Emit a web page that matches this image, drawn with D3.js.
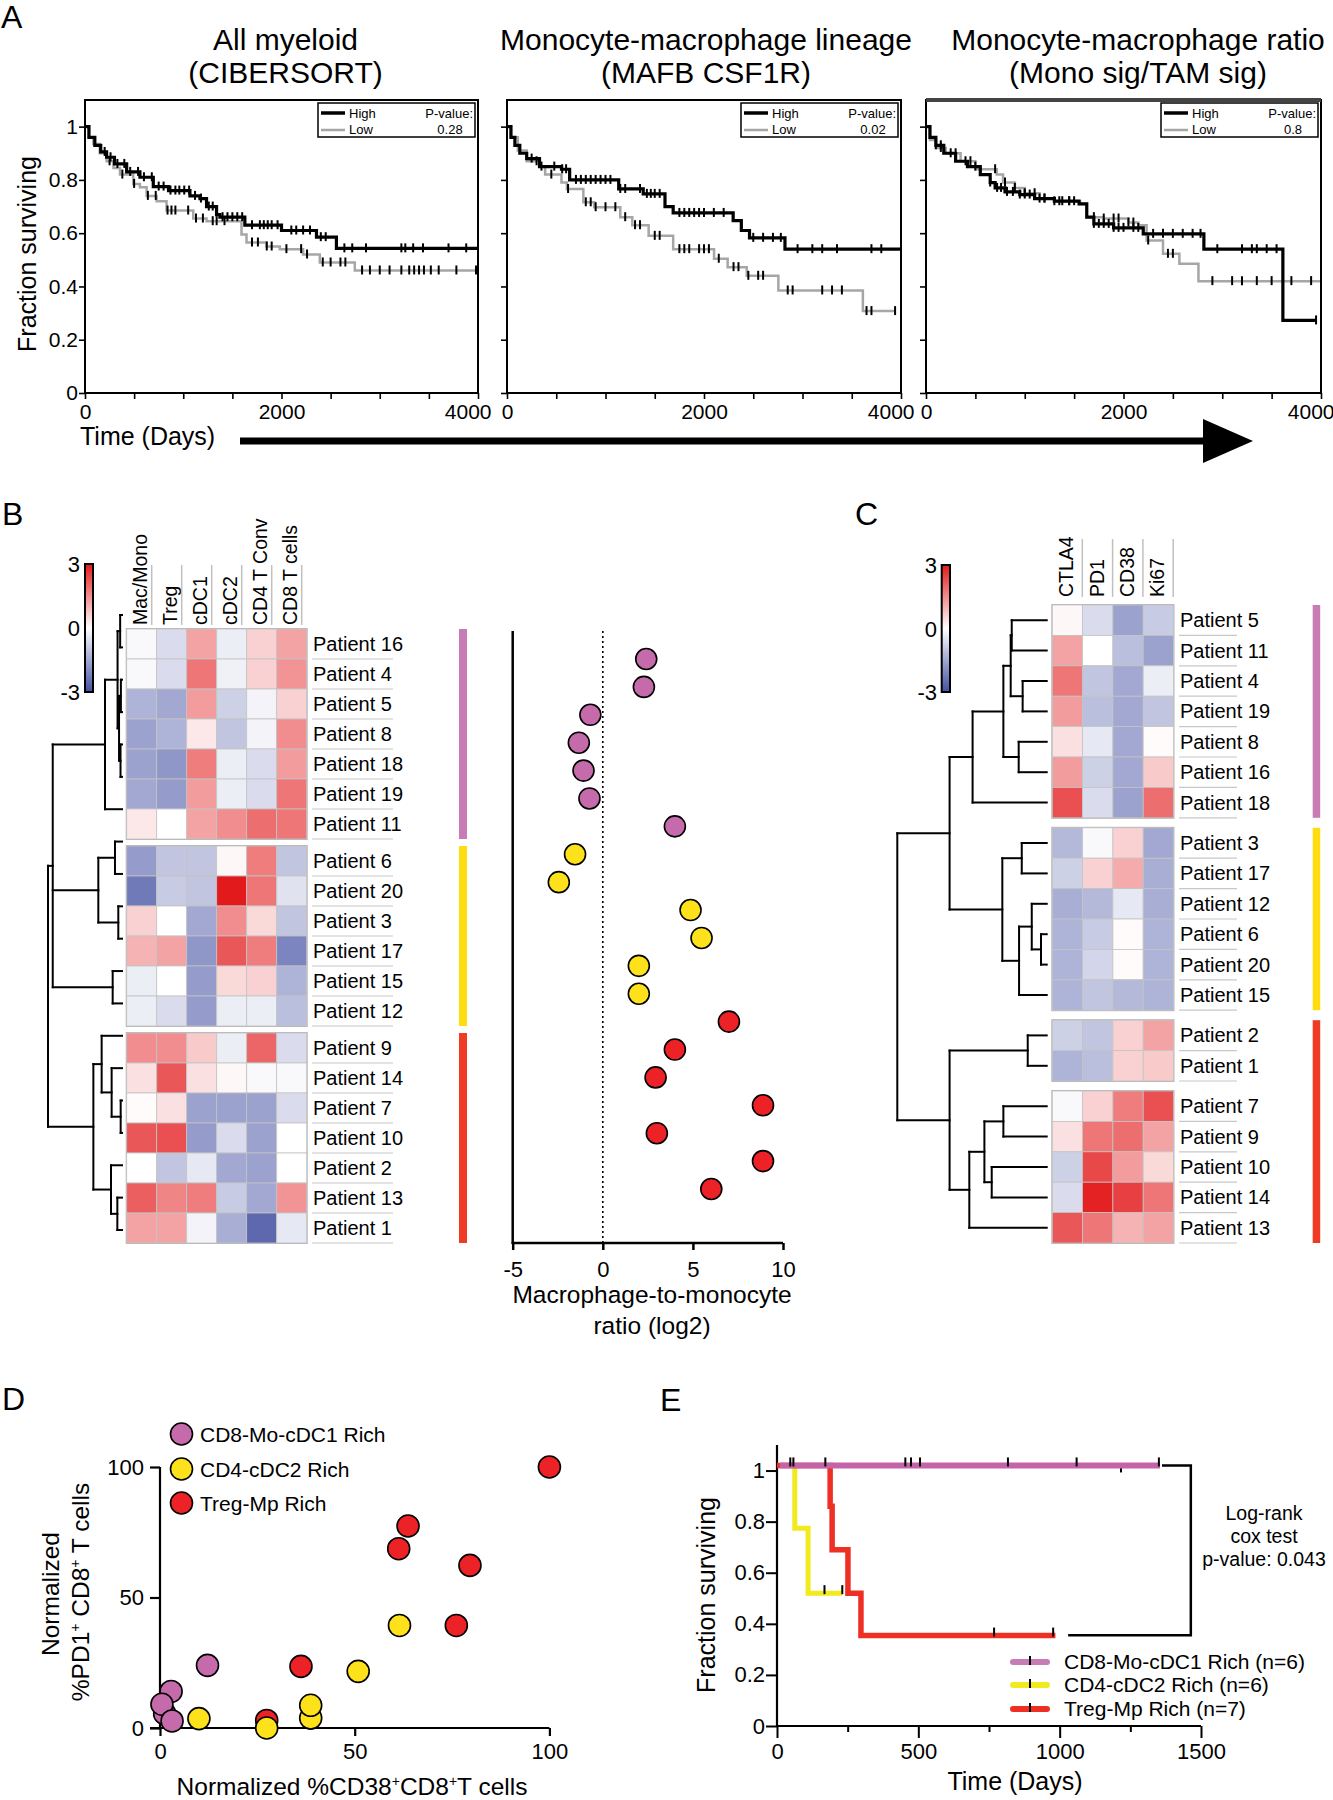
<!DOCTYPE html>
<html><head><meta charset="utf-8">
<script src="https://cdn.jsdelivr.net/npm/d3@7"></script>
<style>
body{margin:0;background:#fff;}
svg{display:block;font-family:"Liberation Sans",Arial,Helvetica,sans-serif;}
</style></head><body>
<svg id="fig" width="1333" height="1800"></svg>
<script>
// ================= DATA =================
// ---- Panel A: Kaplan-Meier curves [time (days), fraction surviving] ----
const titlesA = [["All myeloid","(CIBERSORT)"],["Monocyte-macrophage lineage","(MAFB CSF1R)"],["Monocyte-macrophage ratio","(Mono sig/TAM sig)"]];
const pValuesA = ["0.28","0.02","0.8"];
const legendA = ["High","Low"];
const xTicksA = [0,500,1000,1500,2000,2500,3000,3500,4000];
const xLabelsA = [0,2000,4000];
const yTicksA = [0,0.2,0.4,0.6,0.8,1];

const allHigh = [[0,1],[40,0.96],[100,0.93],[160,0.905],[220,0.885],[300,0.86],[424,0.83],[559,0.81],[695,0.775],[850,0.76],[1068,0.74],[1170,0.73],[1237,0.70],[1339,0.67],[1373,0.66],[1627,0.63],[2000,0.61],[2356,0.585],[2559,0.543],[4000,0.543]];
const allLow = [[0,1],[40,0.96],[85,0.935],[150,0.9],[220,0.87],[290,0.845],[356,0.82],[491,0.785],[559,0.772],[627,0.74],[729,0.72],[830,0.685],[1102,0.655],[1237,0.645],[1593,0.595],[1644,0.565],[1847,0.55],[1983,0.54],[2220,0.52],[2390,0.49],[2746,0.46],[4000,0.46]];
const allHighCens = [200,260,330,400,460,540,600,680,750,800,870,920,960,1010,1060,1120,1180,1260,1300,1400,1450,1500,1550,1600,1700,1780,1820,1860,1900,1960,2100,2150,2220,2290,2400,2450,2640,2720,2860,3220,3260,3340,3440,3700,3880,4000];
const allLowCens = [250,380,500,640,720,840,880,920,1050,1130,1200,1300,1340,1420,1700,1760,1850,1900,2050,2200,2260,2420,2500,2600,2650,2820,2900,3000,3100,3220,3300,3350,3400,3450,3520,3600,3780,3980,4000];

const mafbHigh = [[0,1],[40,0.96],[80,0.93],[130,0.9],[200,0.88],[330,0.85],[553,0.84],[636,0.8],[1134,0.766],[1383,0.7475],[1604,0.70],[1687,0.676],[2296,0.6475],[2379,0.61],[2462,0.5825],[2822,0.54],[4000,0.54]];
const mafbLow = [[0,1],[40,0.96],[110,0.91],[200,0.87],[330,0.85],[387,0.82],[553,0.79],[608,0.766],[775,0.716],[885,0.6975],[1150,0.66],[1272,0.63],[1438,0.59],[1687,0.54],[2102,0.504],[2240,0.4725],[2434,0.44],[2755,0.385],[3613,0.3075],[3940,0.3075]];
const mafbHighCens = [250,350,480,560,600,700,750,800,850,900,950,1000,1050,1150,1200,1350,1420,1460,1500,1550,1750,1800,1850,1900,1950,2000,2100,2200,2500,2600,2700,2780,2950,3100,3200,3350,3700,3800,4000];
const mafbLowCens = [300,450,620,800,850,900,1000,1100,1200,1300,1350,1500,1550,1750,1800,1850,1950,2000,2050,2150,2300,2350,2450,2550,2600,2850,2900,3200,3300,3400,3650,3700,3940];

const ratioHigh = [[0,1],[40,0.96],[100,0.93],[180,0.9],[300,0.87],[420,0.85],[550,0.82],[650,0.79],[700,0.77],[800,0.755],[950,0.745],[1100,0.73],[1300,0.72],[1550,0.71],[1628,0.66],[1700,0.635],[1900,0.62],[2200,0.5975],[2814,0.54],[3614,0.2725],[3950,0.2725]];
const ratioLow = [[0,1],[40,0.95],[100,0.92],[200,0.9],[350,0.87],[500,0.84],[717,0.82],[780,0.79],[900,0.77],[1000,0.75],[1150,0.73],[1300,0.72],[1560,0.71],[1628,0.66],[1800,0.655],[2050,0.64],[2150,0.63],[2234,0.5725],[2400,0.5225],[2566,0.485],[2759,0.42],[4000,0.42]];
const ratioHighCens = [100,150,250,400,500,650,720,760,820,880,950,1000,1050,1150,1200,1300,1380,1450,1500,1700,1750,1800,1850,1900,1950,2000,2100,2150,2300,2400,2500,2600,2700,2780,2950,3200,3300,3350,3450,3550,3950];
const ratioLowCens = [150,300,450,700,800,900,1000,1100,1200,1350,1450,1700,1800,1900,1950,2050,2100,2250,2450,2500,2900,3100,3200,3350,3500,3700,3900];

// ---- Panel B ----
const colsB = ["Mac/Mono","Treg","cDC1","cDC2","CD4 T Conv","CD8 T cells"];
const rowsB = ["Patient 16","Patient 4","Patient 5","Patient 8","Patient 18","Patient 19","Patient 11",
               "Patient 6","Patient 20","Patient 3","Patient 17","Patient 15","Patient 12",
               "Patient 9","Patient 14","Patient 7","Patient 10","Patient 2","Patient 13","Patient 1"];
const clusterSizesB = [7,6,7];
const valuesB = [
 [-0.1,-0.6, 1.2,-0.3, 0.6, 1.2],
 [-0.1,-0.6, 1.8,-0.25,0.6, 1.4],
 [-1.3,-1.5, 1.3,-0.8,-0.2, 0.6],
 [-1.6,-1.3, 0.3,-1.0,-0.2, 1.5],
 [-1.6,-1.8, 1.7,-0.3,-0.6, 1.3],
 [-1.5,-1.7, 1.3,-0.3,-0.6, 1.8],
 [ 0.3, 0.0, 1.2, 1.5, 1.9, 1.8],
 [-1.7,-1.0,-1.0, 0.1, 1.7,-1.0],
 [-2.3,-0.9,-1.0, 3.0, 1.8,-0.5],
 [ 0.6, 0.0,-1.5, 1.5, 0.5,-1.0],
 [ 1.0, 1.2,-1.8, 2.2, 1.7,-2.1],
 [-0.3, 0.0,-1.7, 0.5, 0.6,-1.3],
 [-0.3,-0.6,-1.7,-0.3,-0.3,-1.1],
 [ 1.5, 1.5, 0.7,-0.3, 2.0,-0.6],
 [ 0.4, 2.2, 0.4, 0.1,-0.1,-0.1],
 [ 0.05,0.4,-1.6,-1.6,-1.6,-0.6],
 [ 2.2, 2.3,-1.7,-0.6,-1.6, 0.0],
 [ 0.0,-1.0,-0.4,-1.5,-1.6, 0.0],
 [ 2.1, 1.6, 1.7,-0.9,-1.5, 1.4],
 [ 1.2, 1.2,-0.2,-1.4,-2.6,-0.4]
];
const ratioB = [2.41,2.28,-0.69,-1.33,-1.07,-0.74,4.0,-1.54,-2.44,4.87,5.48,2.0,2.0,7.0,4.0,2.93,8.89,3.0,8.89,6.02];
const ratioTicksB = [-5,0,5,10];
const treeB = {h:10,c:[
  {h:9.36,c:[
    {h:2.3,c:[
      {h:0.6,c:[
        {h:0.25,c:["Patient 16","Patient 4"]},
        {h:0.4,c:[{h:0.15,c:["Patient 5","Patient 8"]},{h:0.2,c:["Patient 18","Patient 19"]}]}
      ]},
      "Patient 11"]},
    {h:3.2,c:[{h:0.95,c:["Patient 6","Patient 20"]},{h:0.5,c:["Patient 3","Patient 17"]}]},
    {h:1.26,c:["Patient 15","Patient 12"]}
  ]},
  {h:3.87,c:[
    {h:2.75,c:["Patient 9",{h:1.4,c:["Patient 14",{h:0.18,c:["Patient 7","Patient 10"]}]}]},
    {h:1.49,c:["Patient 2",{h:0.63,c:["Patient 13","Patient 1"]}]}
  ]}
]};

// ---- Panel C ----
const colsC = ["CTLA4","PD1","CD38","Ki67"];
const rowsC = ["Patient 5","Patient 11","Patient 4","Patient 19","Patient 8","Patient 16","Patient 18",
               "Patient 3","Patient 17","Patient 12","Patient 6","Patient 20","Patient 15",
               "Patient 2","Patient 1","Patient 7","Patient 9","Patient 10","Patient 14","Patient 13"];
const clusterSizesC = [7,6,7];
const blockSizesC = [7,6,2,5];
const valuesC = [
 [ 0.1,-0.6,-1.6,-0.9],
 [ 1.2, 0.0,-1.1,-1.6],
 [ 1.8,-1.0,-1.5,-0.3],
 [ 1.3,-1.1,-1.5,-1.0],
 [ 0.4,-0.4,-1.5, 0.05],
 [ 1.3,-0.8,-1.5, 0.7],
 [ 2.3,-0.6,-1.6, 1.9],
 [-1.2,-0.1, 0.6,-1.5],
 [-0.8, 0.6, 1.1,-1.4],
 [-1.4,-1.2,-0.4,-1.4],
 [-1.3,-0.9, 0.05,-1.3],
 [-1.3,-0.7, 0.05,-1.3],
 [-1.3,-1.0,-1.2,-1.3],
 [-0.8,-1.0, 0.6, 1.2],
 [-1.3,-1.1, 0.6, 0.7],
 [-0.1, 0.6, 1.7, 2.3],
 [ 0.4, 1.8, 1.9, 1.2],
 [-0.8, 2.4, 1.3, 0.5],
 [-0.6, 2.9, 2.5, 1.8],
 [ 2.2, 1.8, 1.0, 1.2]
];
const treeC = {h:10,c:[
  {h:6.5,c:[
    {h:4.96,c:[
      {h:2.9,c:[
        {h:2.41,c:[{h:2.34,c:["Patient 5","Patient 11"]},{h:1.61,c:["Patient 4","Patient 19"]}]},
        {h:1.875,c:["Patient 8","Patient 16"]}
      ]},
      "Patient 18"]},
    {h:2.97,c:[
      {h:1.67,c:["Patient 3","Patient 17"]},
      {h:1.85,c:[{h:1.0,c:["Patient 12",{h:0.38,c:["Patient 6","Patient 20"]}]},"Patient 15"]}
    ]}
  ]},
  {h:6.5,c:[
    {h:1.27,c:["Patient 2","Patient 1"]},
    {h:5.18,c:[{h:4.17,c:[{h:2.9,c:["Patient 7","Patient 9"]},{h:3.68,c:["Patient 10","Patient 14"]}]},"Patient 13"]}
  ]}
]};
const scaleTicksHeat = [3,0,-3];

// ---- Panel D ----
const groupsD = ["CD8-Mo-cDC1 Rich","CD4-cDC2 Rich","Treg-Mp Rich"];
const cd38D = [2.85,1.2,0.5,3.1,12.2,  100,63.7,61.3,79.6,76.1,36.2,27.4,  10.0,27.4,38.7,38.7,50.9,61.5];
const pd1D  = [14.0,5.5,9.1,2.7,24.0,  100,77.4,68.7,62.3,39.3,23.6,2.9,   3.6,0.0,3.8,8.7,21.7,39.3];
const groupD = [0,0,0,0,0, 2,2,2,2,2,2,2, 1,1,1,1,1,1];
const ticksD = [0,50,100];

// ---- Panel E ----
const groupsE = ["CD8-Mo-cDC1 Rich (n=6)","CD4-cDC2 Rich (n=6)","Treg-Mp Rich (n=7)"];
const survPurpleE = [[10,1.02],[1355,1.02]];
const survYellowE = [[0,1.02],[63,0.774],[110,0.52],[231,0.52]];
const survRedE = [[0,1.02],[188,0.86],[195,0.69],[251,0.52],[297,0.354],[985,0.354]];
const survBlackE = [[1362,1.02],[1464,1.02],[1464,0.355],[1030,0.355]];
const censPurpleE = [47,58,171,454,474,506,817,1060,1351];
const censYellowE = [168,231];
const censRedE = [768,977];
const censBlackE = [1217];
const xTicksE = [0,500,1000,1500];
const xMinorE = [250,750,1250];
const yTicksE = [0,0.2,0.4,0.6,0.8,1];
const statsE = ["Log-rank","cox test","p-value: 0.043"];

// ================= DRAWING =================
const svg = d3.select("#fig");
svg.append("rect").attr("width",1333).attr("height",1800).attr("fill","#fff");
const clusterColors = ["#c77cb6","#fedd10","#ef3b24"];
const dotColors = ["#c56aab","#fde11b","#ec2227"];
const heatColor = d3.scaleLinear().domain([-3,0,3]).range(["#4451a3","#ffffff","#e31a1c"]).clamp(true);
const plain = d=>String(d);

function txt(p,x,y,s,size,anchor){
  return p.append("text").attr("x",x).attr("y",y).attr("font-size",size)
    .attr("text-anchor",anchor||"start").attr("fill","#000").text(s);
}
function styleAxis(g,size){
  g.selectAll("text").attr("font-size",size).attr("font-family","'Liberation Sans',Arial,sans-serif").attr("fill","#000");
  g.selectAll("line").attr("stroke","#000").attr("stroke-width",1.6);
  g.select(".domain").remove();
}
const stepAt=(pts,t)=>{let v=pts[0][1];for(const p of pts){if(p[0]<=t)v=p[1];else break;}return v;};

// Panel letters
[["A",1,28],["B",2,525],["C",855,525],["D",2,1410],["E",660,1411]].forEach(d=>txt(svg,d[1],d[2],d[0],32));

// ---------- Panel A ----------
const layA = [{x0:85,x1:478,tx:285.5},{x0:507,x1:901,tx:706},{x0:926,x1:1321,tx:1138}];
const setsA = [
  {high:allHigh,low:allLow,hc:allHighCens,lc:allLowCens},
  {high:mafbHigh,low:mafbLow,hc:mafbHighCens,lc:mafbLowCens},
  {high:ratioHigh,low:ratioLow,hc:ratioHighCens,lc:ratioLowCens}
];
const yA = d3.scaleLinear().domain([0,1.1]).range([393,100]);
const defs = svg.append("defs");
layA.forEach((L,i)=>{
  const g = svg.append("g");
  const x = d3.scaleLinear().domain([0,4000]).range([L.x0,L.x1]);
  txt(g,L.tx,50,titlesA[i][0],30,"middle");
  txt(g,L.tx,83,titlesA[i][1],30,"middle");
  defs.append("clipPath").attr("id","clipA"+i).append("rect")
    .attr("x",L.x0).attr("y",100).attr("width",L.x1-L.x0+2).attr("height",293);
  const S = setsA[i];
  const line = d3.line().x(d=>x(d[0])).y(d=>yA(d[1])).curve(d3.curveStepAfter);
  const pg = g.append("g").attr("clip-path","url(#clipA"+i+")");
  pg.append("path").datum(S.low).attr("d",line).attr("fill","none").attr("stroke","#a6a6a6").attr("stroke-width",2.5);
  pg.append("path").datum(S.high).attr("d",line).attr("fill","none").attr("stroke","#000").attr("stroke-width",3.2);
  [[S.lc,S.low],[S.hc,S.high]].forEach(([cs,pts])=>{
    pg.selectAll(null).data(cs).enter().append("line")
      .attr("x1",d=>x(d)).attr("x2",d=>x(d))
      .attr("y1",d=>yA(stepAt(pts,d))-5).attr("y2",d=>yA(stepAt(pts,d))+4)
      .attr("stroke","#000").attr("stroke-width",2);
  });
  g.append("rect").attr("x",L.x0).attr("y",100).attr("width",L.x1-L.x0).attr("height",293)
    .attr("fill","none").attr("stroke","#000").attr("stroke-width",2);
  if(i===2) g.append("line").attr("x1",L.x0).attr("x2",L.x1).attr("y1",100).attr("y2",100).attr("stroke","#444").attr("stroke-width",4);
  const xa = g.append("g").attr("transform","translate(0,393)")
    .call(d3.axisBottom(x).tickValues(xTicksA).tickSize(6).tickPadding(5)
      .tickFormat(d=>xLabelsA.includes(d)?String(d):""));
  styleAxis(xa,21);
  xa.selectAll(".tick text").filter(d=>d===4000).attr("text-anchor","end").attr("x",13);
  const ya = g.append("g").attr("transform",`translate(${L.x0},0)`)
    .call(d3.axisLeft(yA).tickValues(yTicksA).tickSize(6).tickPadding(1)
      .tickFormat(d=>i===0?String(d):""));
  styleAxis(ya,21);
  // legend box
  const bx = L.x1-160, by=103;
  g.append("rect").attr("x",bx).attr("y",by).attr("width",157).attr("height",34)
    .attr("fill","#fff").attr("stroke","#000").attr("stroke-width",1.5);
  g.append("line").attr("x1",bx+3).attr("x2",bx+27).attr("y1",by+10).attr("y2",by+10).attr("stroke","#000").attr("stroke-width",3.5);
  g.append("line").attr("x1",bx+3).attr("x2",bx+27).attr("y1",by+27).attr("y2",by+27).attr("stroke","#a6a6a6").attr("stroke-width",2.5);
  txt(g,bx+31,by+15,legendA[0],13);
  txt(g,bx+31,by+31,legendA[1],13);
  txt(g,bx+155,by+15,"P-value:",13,"end");
  txt(g,bx+132,by+31,pValuesA[i],13,"middle");
});
txt(svg,0,0,"Fraction surviving",25,"middle").attr("transform","translate(36,254) rotate(-90)");
txt(svg,80,445,"Time (Days)",25);
svg.append("line").attr("x1",240).attr("x2",1210).attr("y1",441).attr("y2",441).attr("stroke","#000").attr("stroke-width",7);
svg.append("polygon").attr("points","1203,419 1253,441 1203,463").attr("fill","#000");

// ---------- heatmap helpers ----------
function blockIndex(i,sizes){let s=0;for(let k=0;k<sizes.length;k++){s+=sizes[k];if(i<s)return k;}return sizes.length-1;}
function drawDendro(g,node,leafY,leafX,rootX){
  const hx = h=>leafX-(h/10)*(leafX-rootX);
  function rec(n){
    if(typeof n==="string") return {x:leafX,y:leafY(n)};
    const kids = n.c.map(rec);
    const nx = hx(n.h);
    const ys = kids.map(k=>k.y);
    const y0=d3.min(ys), y1=d3.max(ys);
    g.append("line").attr("x1",nx).attr("x2",nx).attr("y1",y0).attr("y2",y1);
    kids.forEach(k=>g.append("line").attr("x1",nx).attr("x2",k.x).attr("y1",k.y).attr("y2",k.y));
    return {x:nx,y:(y0+y1)/2};
  }
  rec(node);
  g.selectAll("line").attr("stroke","#000").attr("stroke-width",2).attr("stroke-linecap","square");
}
function colorBar(x,y,w,h,id,labelX){
  const gr = defs.append("linearGradient").attr("id",id).attr("x1",0).attr("x2",0).attr("y1",0).attr("y2",1);
  d3.range(0,1.0001,0.1).forEach(t=>gr.append("stop").attr("offset",t).attr("stop-color",heatColor(3-6*t)));
  svg.append("rect").attr("x",x).attr("y",y).attr("width",w).attr("height",h)
    .attr("fill",`url(#${id})`).attr("stroke","#000").attr("stroke-width",2);
  const sy = d3.scaleLinear().domain([3,-3]).range([y,y+h]);
  scaleTicksHeat.forEach(v=>txt(svg,labelX,sy(v)+8,String(v),22,"end"));
}
function heatmap(cfg){
  const g = svg.append("g");
  const {rows,cols,values,rowY,x0,colW,rowH,blocks} = cfg;
  let start=0;
  blocks.forEach(n=>{
    const yTop=rowY(start), yBot=rowY(start+n-1)+rowH;
    g.append("rect").attr("x",x0).attr("y",yTop).attr("width",colW*cols.length).attr("height",yBot-yTop)
      .attr("fill","none").attr("stroke","#b5b5b5").attr("stroke-width",2);
    start+=n;
  });
  rows.forEach((r,i)=>{
    cols.forEach((c,j)=>{
      g.append("rect").attr("x",x0+j*colW).attr("y",rowY(i)).attr("width",colW).attr("height",rowH)
        .attr("fill",heatColor(values[i][j])).attr("stroke","#c4c4c4").attr("stroke-width",0.8);
    });
    txt(g,cfg.labelX,rowY(i)+rowH/2+7,r,20);
    g.append("line").attr("x1",cfg.labelX-1).attr("x2",cfg.ulineX2).attr("y1",rowY(i)+rowH).attr("y2",rowY(i)+rowH)
      .attr("stroke","#c8c8c8").attr("stroke-width",1.2);
  });
  cols.forEach((c,j)=>{
    txt(g,0,0,c,19.5).attr("transform",`translate(${x0+j*colW+cfg.colTextOff},${cfg.colBottom}) rotate(-90)`);
    g.append("line").attr("x1",x0+j*colW+cfg.sepOff).attr("x2",x0+j*colW+cfg.sepOff)
      .attr("y1",cfg.sepTop).attr("y2",cfg.colBottom).attr("stroke","#c0c0c0").attr("stroke-width",1.5);
  });
  let s=0;
  cfg.clusters.forEach((n,k)=>{
    const yTop=rowY(s), yBot=rowY(s+n-1)+rowH;
    g.append("rect").attr("x",cfg.barX).attr("y",yTop).attr("width",cfg.barW).attr("height",yBot-yTop).attr("fill",clusterColors[k]);
    s+=n;
  });
}

// ---------- Panel B ----------
const rowYB = i=>629+i*30+blockIndex(i,clusterSizesB)*7;
heatmap({rows:rowsB,cols:colsB,values:valuesB,rowY:rowYB,x0:126.7,colW:30,rowH:30,blocks:clusterSizesB,
  clusters:clusterSizesB,labelX:313,ulineX2:393,colTextOff:20,colBottom:625,sepOff:25,sepTop:565,barX:459,barW:8});
colorBar(85,564,8,128,"gradB",80);
const leafYB = d3.scalePoint().domain(rowsB).range([615,1230]);
drawDendro(svg.append("g"),treeB,n=>leafYB(n),122,48);

// dot plot
const xR = d3.scaleLinear().domain([-5,10]).range([512.7,783]);
const yR = d3.scalePoint().domain(rowsB).range([659,1189]);
const gD = svg.append("g");
gD.append("line").attr("x1",xR(0)).attr("x2",xR(0)).attr("y1",631).attr("y2",1243)
  .attr("stroke","#000").attr("stroke-width",1.6).attr("stroke-dasharray","2,3");
gD.append("line").attr("x1",xR(-5)).attr("x2",xR(-5)).attr("y1",631).attr("y2",1244)
  .attr("stroke","#000").attr("stroke-width",2.5);
gD.append("line").attr("x1",xR(-5)-1).attr("x2",xR(10)).attr("y1",1243).attr("y2",1243)
  .attr("stroke","#000").attr("stroke-width",2.5);
const xRa = gD.append("g").attr("transform","translate(0,1243)")
  .call(d3.axisBottom(xR).tickValues(ratioTicksB).tickSize(7).tickPadding(11).tickFormat(plain));
styleAxis(xRa,22); xRa.selectAll("line").attr("stroke-width",2.5);
gD.selectAll("circle").data(rowsB).enter().append("circle")
  .attr("cx",(d,i)=>xR(ratioB[i])).attr("cy",d=>yR(d)).attr("r",10.5)
  .attr("fill",(d,i)=>dotColors[blockIndex(i,clusterSizesB)]).attr("stroke","#000").attr("stroke-width",1.6);
txt(gD,652,1303,"Macrophage-to-monocyte",24.5,"middle");
txt(gD,652,1334,"ratio (log2)",24.5,"middle");

// ---------- Panel C ----------
const rowYC = i=>605+i*30.4+blockIndex(i,blockSizesC)*10;
heatmap({rows:rowsC,cols:colsC,values:valuesC,rowY:rowYC,x0:1052.3,colW:30.3,rowH:30.4,blocks:blockSizesC,
  clusters:clusterSizesC,labelX:1180,ulineX2:1237,colTextOff:21,colBottom:597,sepOff:30,sepTop:539,barX:1312.7,barW:7.5});
colorBar(941.7,565,8.3,127,"gradC",937);
drawDendro(svg.append("g"),treeC,n=>rowYC(rowsC.indexOf(n))+15.2,1046.7,897.3);

// ---------- Panel D ----------
const xD = d3.scaleLinear().domain([0,100]).range([160,549.4]);
const yD = d3.scaleLinear().domain([0,100]).range([1728,1467]);
const gDD = svg.append("g");
gDD.append("line").attr("x1",150).attr("x2",xD(100)).attr("y1",1728).attr("y2",1728).attr("stroke","#000").attr("stroke-width",2.2);
gDD.append("line").attr("x1",160).attr("x2",160).attr("y1",yD(100)).attr("y2",1729).attr("stroke","#000").attr("stroke-width",2.2);
const xDa = gDD.append("g").attr("transform","translate(0,1728)")
  .call(d3.axisBottom(xD).tickValues(ticksD).tickSize(8).tickPadding(7).tickFormat(plain));
styleAxis(xDa,22); xDa.selectAll("line").attr("stroke-width",2.2);
const yDa = gDD.append("g").attr("transform","translate(160,0)")
  .call(d3.axisLeft(yD).tickValues(ticksD).tickSize(10).tickPadding(6).tickFormat(plain));
styleAxis(yDa,22); yDa.selectAll("line").attr("stroke-width",2.2);
gDD.selectAll("circle.pt").data(cd38D).enter().append("circle")
  .attr("cx",d=>xD(d)).attr("cy",(d,i)=>yD(pd1D[i])).attr("r",11)
  .attr("fill",(d,i)=>dotColors[groupD[i]]).attr("stroke","#000").attr("stroke-width",1.6);
groupsD.forEach((s,k)=>{
  const cy=[1434,1469,1503][k];
  gDD.append("circle").attr("cx",181.5).attr("cy",cy).attr("r",11).attr("fill",dotColors[k]).attr("stroke","#000").attr("stroke-width",1.6);
  txt(gDD,200,cy+8,s,21);
});
{
  const t = gDD.append("text").attr("x",352).attr("y",1795).attr("font-size",24.5).attr("text-anchor","middle");
  t.append("tspan").text("Normalized %CD38");
  t.append("tspan").attr("font-size",14).attr("dy",-9).text("+");
  t.append("tspan").attr("dy",9).text("CD8");
  t.append("tspan").attr("font-size",14).attr("dy",-9).text("+");
  t.append("tspan").attr("dy",9).text("T cells");
  txt(gDD,0,0,"Normalized",24.5,"middle").attr("transform","translate(59,1594) rotate(-90)");
  const t2 = gDD.append("text").attr("font-size",24.5).attr("text-anchor","middle").attr("transform","translate(89,1592) rotate(-90)");
  t2.append("tspan").text("%PD1");
  t2.append("tspan").attr("font-size",14).attr("dy",-9).text("+");
  t2.append("tspan").attr("dy",9).text(" CD8");
  t2.append("tspan").attr("font-size",14).attr("dy",-9).text("+");
  t2.append("tspan").attr("dy",9).text(" T cells");
}

// ---------- Panel E ----------
const xE = d3.scaleLinear().domain([0,1500]).range([777,1201]);
const yE = d3.scaleLinear().domain([0,1.1]).range([1726,1445]);
const gE = svg.append("g");
gE.append("line").attr("x1",777).attr("x2",777).attr("y1",1445).attr("y2",1727).attr("stroke","#000").attr("stroke-width",2.2);
gE.append("line").attr("x1",776).attr("x2",1201).attr("y1",1726).attr("y2",1726).attr("stroke","#000").attr("stroke-width",2.2);
const xEa = gE.append("g").attr("transform","translate(0,1726)")
  .call(d3.axisBottom(xE).tickValues(xTicksE).tickSize(12).tickPadding(5).tickFormat(plain));
styleAxis(xEa,22); xEa.selectAll("line").attr("stroke-width",2);
const xEm = gE.append("g").attr("transform","translate(0,1726)")
  .call(d3.axisBottom(xE).tickValues(xMinorE).tickSize(6).tickFormat(""));
styleAxis(xEm,22); xEm.selectAll("line").attr("stroke-width",2);
const yEa = gE.append("g").attr("transform","translate(777,0)")
  .call(d3.axisLeft(yE).tickValues(yTicksE).tickSize(11).tickPadding(1).tickFormat(plain));
styleAxis(yEa,22); yEa.selectAll("line").attr("stroke-width",2);
const lineE = d3.line().x(d=>xE(d[0])).y(d=>yE(d[1])).curve(d3.curveStepAfter);
gE.append("path").datum(survBlackE).attr("d",d3.line().x(d=>xE(d[0])).y(d=>yE(d[1])))
  .attr("fill","none").attr("stroke","#000").attr("stroke-width",2.5);
gE.selectAll(null).data(censBlackE).enter().append("line")
  .attr("x1",d=>xE(d)).attr("x2",d=>xE(d)).attr("y1",yE(1.02)+2).attr("y2",yE(1.02)+7).attr("stroke","#000").attr("stroke-width",2);
const eCurves = [[survYellowE,censYellowE,"#f2ea1d",5],[survRedE,censRedE,"#ee3024",5.5],[survPurpleE,censPurpleE,"#c563a9",6]];
eCurves.forEach(([pts,cs,col,w])=>{
  gE.append("path").datum(pts).attr("d",lineE).attr("fill","none").attr("stroke",col).attr("stroke-width",w);
});
eCurves.forEach(([pts,cs])=>{
  gE.selectAll(null).data(cs).enter().append("line")
    .attr("x1",d=>xE(d)).attr("x2",d=>xE(d))
    .attr("y1",d=>yE(stepAt(pts,d))-8).attr("y2",d=>yE(stepAt(pts,d))+1)
    .attr("stroke","#000").attr("stroke-width",2);
});
const legColsE = ["#c77cb6","#f2ea1d","#ee3024"];
groupsE.forEach((s,k)=>{
  const ly=[1662,1685,1709][k];
  gE.append("line").attr("x1",1013).attr("x2",1047).attr("y1",ly).attr("y2",ly).attr("stroke",legColsE[k]).attr("stroke-width",6).attr("stroke-linecap","round");
  gE.append("line").attr("x1",1030).attr("x2",1030).attr("y1",ly-6).attr("y2",ly+3).attr("stroke","#000").attr("stroke-width",2);
  txt(gE,1064,ly+7,s,21);
});
statsE.forEach((s,k)=>txt(gE,1264,[1520,1543,1566][k],s,19.5,"middle"));
txt(gE,0,0,"Fraction surviving",25,"middle").attr("transform","translate(715,1595) rotate(-90)");
txt(gE,1015,1790,"Time (Days)",25,"middle");
</script></body></html>
